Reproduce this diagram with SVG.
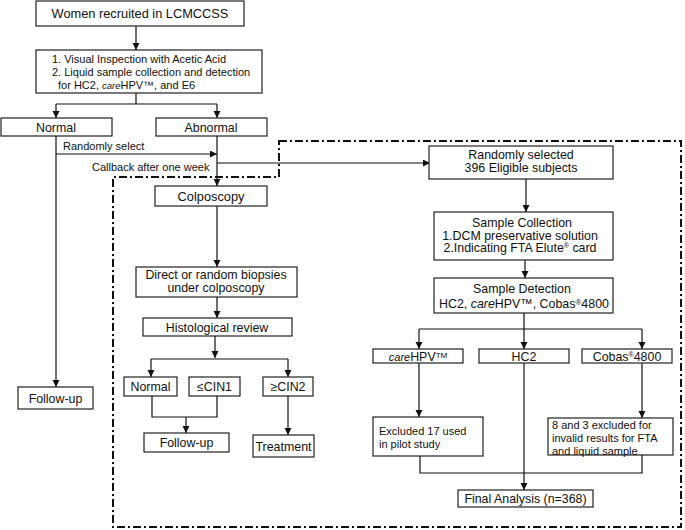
<svg xmlns="http://www.w3.org/2000/svg" width="685" height="530" viewBox="0 0 685 530">
<defs>
<marker id="ah" markerUnits="userSpaceOnUse" markerWidth="8" markerHeight="8" refX="7" refY="3.5" orient="auto">
<path d="M0,0 L7,3.5 L0,7 z" fill="#111"/>
</marker>
<style>
rect.b{fill:#fff;stroke:#222;stroke-width:1.2}
text{font-family:"Liberation Sans",Arial,sans-serif;fill:#111;font-size:12.4px}
text.c{text-anchor:middle}
text.s{font-size:11px}
text.l{font-size:12.8px}
.ln{fill:none;stroke:#111;stroke-width:1.2}
.ar{fill:none;stroke:#111;stroke-width:1.2;marker-end:url(#ah)}
.dd{fill:none;stroke:#111;stroke-width:2;stroke-dasharray:8 3 2 3}
</style>
</defs>
<rect width="685" height="530" fill="#fff"/>
<g id="connectors">
<polygon class="dd" points="279,141 681,141 681,527 113,527 113,177 279,177"/>
<path class="ar" d="M136,26 V50"/>
<path class="ln" d="M136,93 V104 M56,104 H217"/>
<path class="ar" d="M56,104 V118"/>
<path class="ar" d="M217,104 V118"/>
<path class="ar" d="M56,136 V387"/>
<path class="ar" d="M56,154 H217"/>
<path class="ar" d="M217,136 V186"/>
<path class="ar" d="M217,163 H430"/>
<path class="ar" d="M217,206 V267"/>
<path class="ar" d="M217,297 V318"/>
<path class="ar" d="M215,336 V358"/>
<path class="ln" d="M151,359 H288"/>
<path class="ar" d="M151,359 V377"/>
<path class="ar" d="M288,359 V377"/>
<path class="ln" d="M152,396 V417 H217 V396"/>
<path class="ar" d="M186,417 V433"/>
<path class="ar" d="M288,396 V435"/>
<path class="ar" d="M526,179 V212"/>
<path class="ar" d="M525,260 V278"/>
<path class="ln" d="M524,313 V329 M419,329 H642"/>
<path class="ar" d="M419,329 V349"/>
<path class="ar" d="M524,329 V349"/>
<path class="ar" d="M642,329 V349"/>
<path class="ar" d="M419,363 V417"/>
<path class="ar" d="M642,363 V418"/>
<path class="ar" d="M524,363 V490"/>
<path class="ln" d="M420,456 V473 H642 V455"/>
<text class="s" x="63" y="150">Randomly select</text>
<text class="s" x="92" y="171">Callback after one week</text>
</g>
<g id="n-women"><rect class="b" x="36" y="1" width="208" height="25"/><text class="c l" x="140" y="18">Women recruited in LCMCCSS</text></g>
<g id="n-via"><rect class="b" x="36" y="50" width="226" height="43"/>
<text class="s" x="52" y="63">1. Visual Inspection with Acetic Acid</text>
<text class="s" x="52" y="76">2. Liquid sample collection and detection</text>
<text class="s" x="58" y="89">for HC2, <tspan font-style="italic" font-size="9.5">care</tspan>HPV™, and E6</text></g>
<g id="n-normal"><rect class="b" x="1" y="118" width="111" height="18"/><text class="c" x="56" y="131.5">Normal</text></g>
<g id="n-abnormal"><rect class="b" x="156" y="118" width="111" height="18"/><text class="c" x="211" y="131.5">Abnormal</text></g>
<g id="n-colpo"><rect class="b" x="155" y="186" width="112" height="20"/><text class="c l" x="211" y="200.5">Colposcopy</text></g>
<g id="n-biopsy"><rect class="b" x="136" y="267" width="161" height="30"/><text class="c" x="216" y="279">Direct or random biopsies</text><text class="c" x="216" y="292">under colposcopy</text></g>
<g id="n-histo"><rect class="b" x="143" y="318" width="149" height="18"/><text class="c" x="217" y="331.5">Histological review</text></g>
<g id="n-hnormal"><rect class="b" x="124" y="377" width="53" height="19"/><text class="c" x="150.5" y="391">Normal</text></g>
<g id="n-cin1"><rect class="b" x="189" y="377" width="51" height="19"/><text class="c" x="214.5" y="391">≤CIN1</text></g>
<g id="n-cin2"><rect class="b" x="263" y="377" width="50" height="19"/><text class="c" x="288" y="391">≥CIN2</text></g>
<g id="n-follow2"><rect class="b" x="144" y="433" width="85" height="19"/><text class="c" x="186.5" y="447">Follow-up</text></g>
<g id="n-treat"><rect class="b" x="253" y="435" width="61" height="22"/><text class="c" x="283.5" y="450.5">Treatment</text></g>
<g id="n-follow1"><rect class="b" x="18" y="387" width="75" height="22"/><text class="c" x="55.5" y="402.5">Follow-up</text></g>
<g id="n-random"><rect class="b" x="429" y="146" width="184" height="33"/><text class="c" x="521" y="158.5">Randomly selected</text><text class="c" x="521" y="172">396 Eligible subjects</text></g>
<g id="n-collect"><rect class="b" x="434" y="212" width="179" height="48"/>
<text class="c" x="522" y="227">Sample Collection</text>
<text class="c" x="520" y="239.5">1.DCM preservative solution</text>
<text class="c" x="520" y="252">2.Indicating FTA Elute<tspan font-size="7" dy="-4">®</tspan><tspan dy="4"> card</tspan></text></g>
<g id="n-detect"><rect class="b" x="434" y="278" width="179" height="35"/>
<text class="c" x="522" y="293">Sample Detection</text>
<text class="c" x="524" y="307.5">HC2, <tspan font-style="italic">care</tspan>HPV™, Cobas<tspan font-size="8" dy="-3">®</tspan><tspan dy="3">4800</tspan></text></g>
<g id="n-carehpv"><rect class="b" x="373" y="349" width="90" height="14"/><text class="c" x="418" y="360.5"><tspan font-style="italic" font-size="11">care</tspan>HPV<tspan font-size="8" dy="-3">TM</tspan></text></g>
<g id="n-hc2"><rect class="b" x="479" y="349" width="90" height="14"/><text class="c" x="524" y="360.5">HC2</text></g>
<g id="n-cobas"><rect class="b" x="582" y="349" width="90" height="14"/><text class="c" x="627" y="360.5">Cobas<tspan font-size="7" dy="-4">®</tspan><tspan dy="4">4800</tspan></text></g>
<g id="n-excl17"><rect class="b" x="373" y="417" width="110" height="39"/><text class="s" x="379" y="435">Excluded 17 used</text><text class="s" x="379" y="448">in pilot study</text></g>
<g id="n-excl83"><rect class="b" x="548" y="418" width="125" height="37"/><text class="s" x="552" y="429">8 and 3 excluded for</text><text class="s" x="552" y="442">invalid results for FTA</text><text class="s" x="552" y="454.5">and liquid sample</text></g>
<g id="n-final"><rect class="b" x="458" y="490" width="135" height="17"/><text class="c" x="525.5" y="503">Final Analysis (n=368)</text></g>
</svg>
